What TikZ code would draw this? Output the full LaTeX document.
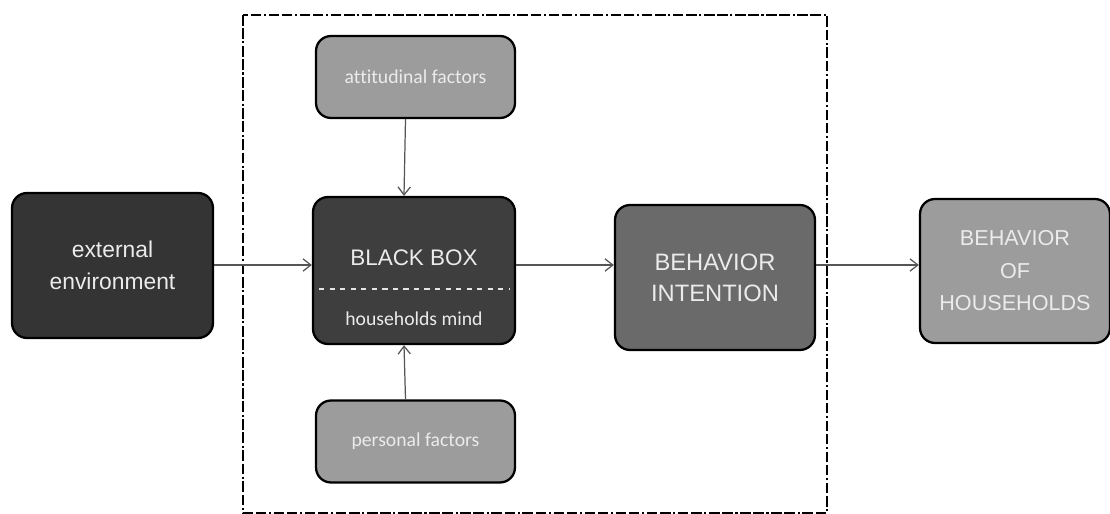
\documentclass[tikz,border=0pt]{standalone}
\usepackage{fontspec}
\setmainfont{Liberation Sans}
\newfontfamily\smallfont[Ligatures=NoCommon]{Carlito}
\usetikzlibrary{calc,arrows.meta}
\definecolor{darkbox}{HTML}{343434}
\definecolor{midbox}{HTML}{6A6A6A}
\definecolor{lightbox}{HTML}{9C9C9C}
\definecolor{arrowgray}{HTML}{555555}
\begin{document}
\begin{tikzpicture}[x=0.02cm, y=-0.02cm,
	box/.style={draw=black, line width=1.3pt, rounded corners=0.3cm, text=white!92!black, align=center, font=\fontsize{13}{18}\selectfont},
	factor/.style={box, fill=lightbox, minimum width=3.98cm, minimum height=1.64cm, font=\smallfont\fontsize{11.2}{13}\selectfont},
	arr/.style={-{Straight Barb[length=4.5pt,width=7pt]}, draw=arrowgray, line width=0.7pt},
	frame/.style={line width=1.2pt, dash pattern=on 6pt off 1.5pt on 6pt off 1.5pt on 1.2pt off 1.5pt}]
			\useasboundingbox (0,0) rectangle (1110,514);
			\draw[frame] (243,15) rectangle (827,513);
			\node[box, fill=darkbox, minimum width=4.02cm, minimum height=2.9cm] (ext) at (112.5,265.5) {external\\environment};
			\node[factor] (attitudinal) at (415.5,77) {attitudinal factors};
			\node[box, fill=darkbox!95!white, minimum width=4.04cm, minimum height=2.94cm] (blackbox) at (414,270.5) {};
			\node[text=white!92!black, font=\fontsize{12.8}{16}\selectfont] (bbtitle) at (414,258) {BLACK BOX};
			\node[text=white!92!black, font=\smallfont\fontsize{11.2}{13}\selectfont] (bbmind) at (414,319) {households mind};
			\draw[white!90!black, dashed, line width=1pt] (319,289) -- (510,289);
			\node[factor] (personal) at (415.5,441.5) {personal factors};
			\node[box, fill=midbox, minimum width=4cm, minimum height=2.9cm, font=\fontsize{13.5}{17.5}\selectfont] (intention) at (715,277.5) {BEHAVIOR\\INTENTION};
			\node[box, fill=lightbox, minimum width=3.8cm, minimum height=2.88cm, font=\fontsize{12.3}{18.5}\selectfont] (households) at (1015,271) {BEHAVIOR\\OF\\HOUSEHOLDS};
			\coordinate (mainline) at (0,265);
			\draw[arr] (ext.east |- mainline) -- (blackbox.west |- mainline);
			\draw[arr] (blackbox.east |- mainline) -- (intention.west |- mainline);
			\draw[arr] (intention.east |- mainline) -- (households.west |- mainline);
			\draw[arr] ([xshift=-0.2cm]attitudinal.south) -- ([xshift=-0.2cm]blackbox.north);
			\draw[arr] ([xshift=-0.2cm]personal.north) -- ([xshift=-0.2cm]blackbox.south);
		\end{tikzpicture}
\end{document}
